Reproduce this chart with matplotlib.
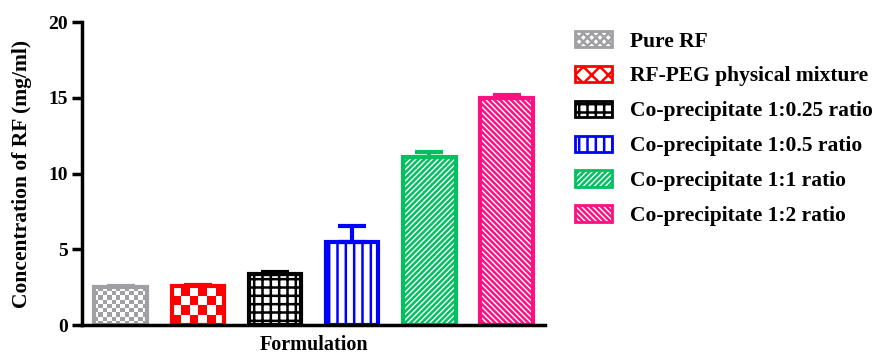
import numpy as np
import matplotlib
matplotlib.use("Agg")
import matplotlib.pyplot as plt
from matplotlib.patches import Patch

labels = ["Pure RF", "RF-PEG physical mixture", "Co-precipitate 1:0.25 ratio",
          "Co-precipitate 1:0.5 ratio", "Co-precipitate 1:1 ratio", "Co-precipitate 1:2 ratio"]
means = [2.5, 2.55, 3.35, 5.45, 11.1, 15.0]
errs = [0.1, 0.08, 0.12, 1.1, 0.3, 0.2]
colors = ["#A0A0A4", "#FF0000", "#000000", "#0000FF", "#00C060", "#FF1080"]
hatches = [None, None, "++", "||", "//////", "\\\\\\\\\\\\"]
legend_hatches = ["xxxx", "xx", "++", "||", "//////", "\\\\\\\\\\\\"]
checker = [12, 6, 0, 0, 0, 0]  # checkerboard cells across bar (0 = none)

plt.rcParams["font.family"] = "Liberation Serif"
plt.rcParams["font.weight"] = "bold"
plt.rcParams["hatch.linewidth"] = 1.8

fig = plt.figure(figsize=(8.91, 3.55), dpi=100)
ax = fig.add_axes([0.092, 0.0845, 0.52, 0.853])

x = np.arange(len(means))
width = 0.68
for i in range(len(means)):
    b = ax.bar(x[i], means[i], width, color="none", edgecolor=colors[i],
               hatch=hatches[i], linewidth=3, zorder=2)[0]
    ax.errorbar(x[i], means[i], yerr=[[0], [errs[i]]], color=colors[i],
                capsize=10, capthick=3, elinewidth=3, zorder=1)
    if checker[i]:
        n = checker[i]
        h_px = means[i] / 20 * 303
        rows = int(round(h_px / (52 / n)))
        pat = (np.add.outer(np.arange(rows), np.arange(n)) % 2).astype(float)
        cmap = matplotlib.colors.ListedColormap(["white", colors[i]])
        im = ax.imshow(pat, cmap=cmap, extent=(x[i] - width / 2, x[i] + width / 2, 0, means[i]),
                       aspect="auto", interpolation="nearest", zorder=1.5)
        im.set_clip_path(b)

ax.set_xlim(-0.5, 5.5)
ax.set_ylim(0, 20)
ax.set_yticks([0, 5, 10, 15, 20])
ax.set_xticks([])
ax.spines["top"].set_visible(False)
ax.spines["right"].set_visible(False)
ax.spines["left"].set_linewidth(2.5)
ax.spines["bottom"].set_linewidth(2.5)
ax.tick_params(axis="y", length=7, width=2.5, labelsize=14, pad=3)
ax.set_ylabel("Concentration of RF (mg/ml)", fontsize=15.5, fontweight="bold", labelpad=12)
ax.set_xlabel("Formulation", fontsize=14.5, fontweight="bold", labelpad=7)

handles = [Patch(facecolor="white", edgecolor=c, hatch=h, linewidth=2)
           for c, h in zip(colors, legend_hatches)]
ax.legend(handles=handles, labels=labels, loc="upper left", bbox_to_anchor=(1.045, 1.0),
          frameon=False, fontsize=15.5, handlelength=1.75, handleheight=0.8,
          labelspacing=0.66, handletextpad=0.8, borderaxespad=0)

fig.savefig("out.png", dpi=100)
